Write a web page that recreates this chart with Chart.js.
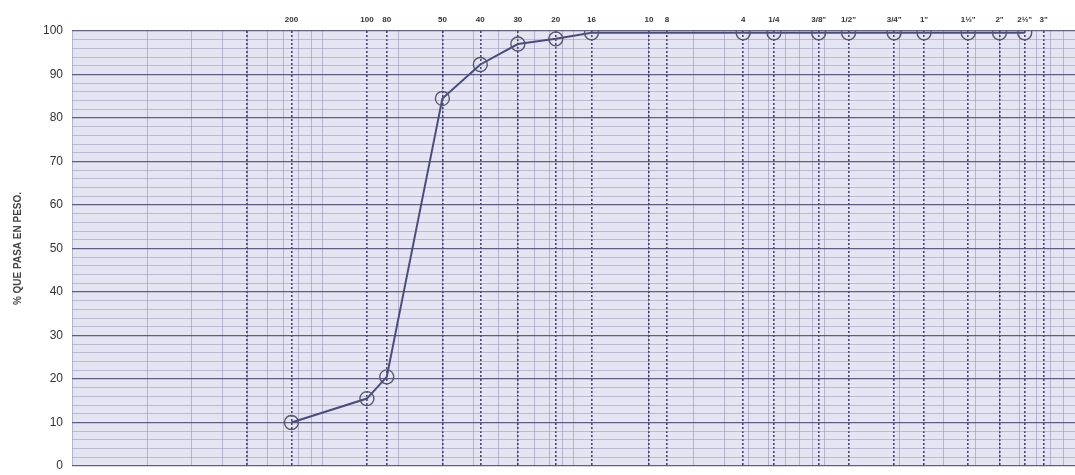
<!DOCTYPE html>
<html>
<head>
<meta charset="utf-8">
<script src="https://cdn.jsdelivr.net/npm/chart.js@4/dist/chart.umd.min.js"></script>
<style>
html,body{margin:0;padding:0;background:#fff;overflow:hidden;}
#wrap{width:1075px;height:475px;}
canvas{display:block;}
</style>
</head>
<body>
<div id="wrap"><canvas id="c" width="1075" height="475"></canvas></div>
<script>
// Sieve designations (top axis) and their openings in mm
const sieveLabels = ['', '200', '100', '80', '50', '40', '30', '20', '16', '10', '8', '4', '1/4', '3/8"', '1/2"', '3/4"', '1"', '1½"', '2"', '2½"', '3"'];
const sieveSizes  = [0.05, 0.075, 0.15, 0.18, 0.3, 0.425, 0.6, 0.85, 1.18, 2.0, 2.36, 4.75, 6.3, 9.5, 12.5, 19, 25, 37.5, 50, 63, 75];

// Measured gradation (size in mm, % passing by weight)
const testSizes   = [0.075, 0.15, 0.18, 0.3, 0.425, 0.6, 0.85, 1.18, 4.75, 6.3, 9.5, 12.5, 19, 25, 37.5, 50, 63];
const testPassing = [10, 15.5, 20.5, 84.5, 92.3, 97, 98.2, 99.6, 99.6, 99.6, 99.6, 99.6, 99.6, 99.6, 99.6, 99.6, 99.6];

// Y axis ticks (labelled every 10)
const yTickLabels = [0, 10, 20, 30, 40, 50, 60, 70, 80, 90, 100];

const points = testSizes.map((s, i) => ({x: s, y: testPassing[i]}));

// log-paper minor vertical grid values
const logGrid = [];
for (let d = 0.01; d < 100; d *= 10) {
  for (let k = 1; k <= 9; k++) logGrid.push(+(k * d).toPrecision(3));
}
logGrid.push(100);

const bgPlugin = {
  id: 'bg',
  beforeDraw(chart) {
    const {ctx, chartArea: a} = chart;
    ctx.save();
    ctx.fillStyle = '#e4e4f2';
    ctx.fillRect(a.left, a.top, a.right - a.left, a.bottom - a.top);
    ctx.restore();
  }
};

function noPad(s) { s.paddingLeft = 0; s.paddingRight = 0; s.paddingTop = 0; s.paddingBottom = 0; }

new Chart(document.getElementById('c'), {
  type: 'scatter',
  data: {
    datasets: [{
      data: points,
      showLine: true,
      borderColor: '#4a4c7c',
      borderWidth: 2,
      pointRadius: 7,
      pointBorderWidth: 1.4,
      pointBorderColor: '#55576e',
      pointBackgroundColor: 'rgba(0,0,0,0)',
      tension: 0
    }]
  },
  options: {
    responsive: false,
    animation: false,
    layout: {autoPadding: false, padding: 0},
    plugins: {legend: {display: false}, tooltip: {enabled: false}},
    scales: {
      x: {
        type: 'logarithmic',
        position: 'bottom',
        min: 0.01, max: 100,
        afterBuildTicks(s) { s.ticks = logGrid.map(v => ({value: v})); },
        afterFit(s) { s.height = 9; noPad(s); },
        ticks: {display: false},
        grid: {color: 'rgba(125,125,165,0.45)', lineWidth: 1, drawTicks: false},
        border: {display: false}
      },
      x2: {
        type: 'logarithmic',
        position: 'top',
        min: 0.01, max: 100,
        afterBuildTicks(s) { s.ticks = sieveSizes.map(v => ({value: v})); },
        afterFit(s) { s.height = 31; noPad(s); },
        ticks: {
          autoSkip: false, maxRotation: 0, minRotation: 0, padding: 6,
          color: '#333',
          font: {family: 'Liberation Sans, Arial, sans-serif', size: 8, weight: 'bold'},
          callback(v, i) { return sieveLabels[i]; }
        },
        grid: {color: 'rgba(50,50,95,0.9)', lineWidth: 1.6, drawTicks: false},
        border: {display: false, dash: [2, 2]}
      },
      y: {
        type: 'linear',
        min: 0, max: 100,
        afterBuildTicks(s) {
          const t = [];
          for (let v = 0; v <= 100; v += 2) t.push({value: v});
          s.ticks = t;
        },
        afterFit(s) { s.width = 72; noPad(s); },
        ticks: {
          autoSkip: false,
          padding: 9, color: '#333',
          font: {family: 'Liberation Sans, Arial, sans-serif', size: 12},
          callback(v) { return yTickLabels.includes(v) ? String(v) : ''; }
        },
        grid: {
          drawTicks: false,
          color(ctx) { return ctx.tick && ctx.tick.value % 10 === 0 ? 'rgba(70,72,110,0.85)' : 'rgba(140,135,170,0.45)'; },
          lineWidth(ctx) { return ctx.tick && ctx.tick.value % 10 === 0 ? 1.3 : 1; }
        },
        border: {display: false},
        title: {
          display: true, text: '% QUE PASA EN PESO.',
          color: '#444', padding: {top: 12, bottom: 0},
          font: {family: 'Liberation Sans, Arial, sans-serif', size: 10, weight: 'bold'}
        }
      }
    }
  },
  plugins: [bgPlugin]
});
</script>
</body>
</html>
